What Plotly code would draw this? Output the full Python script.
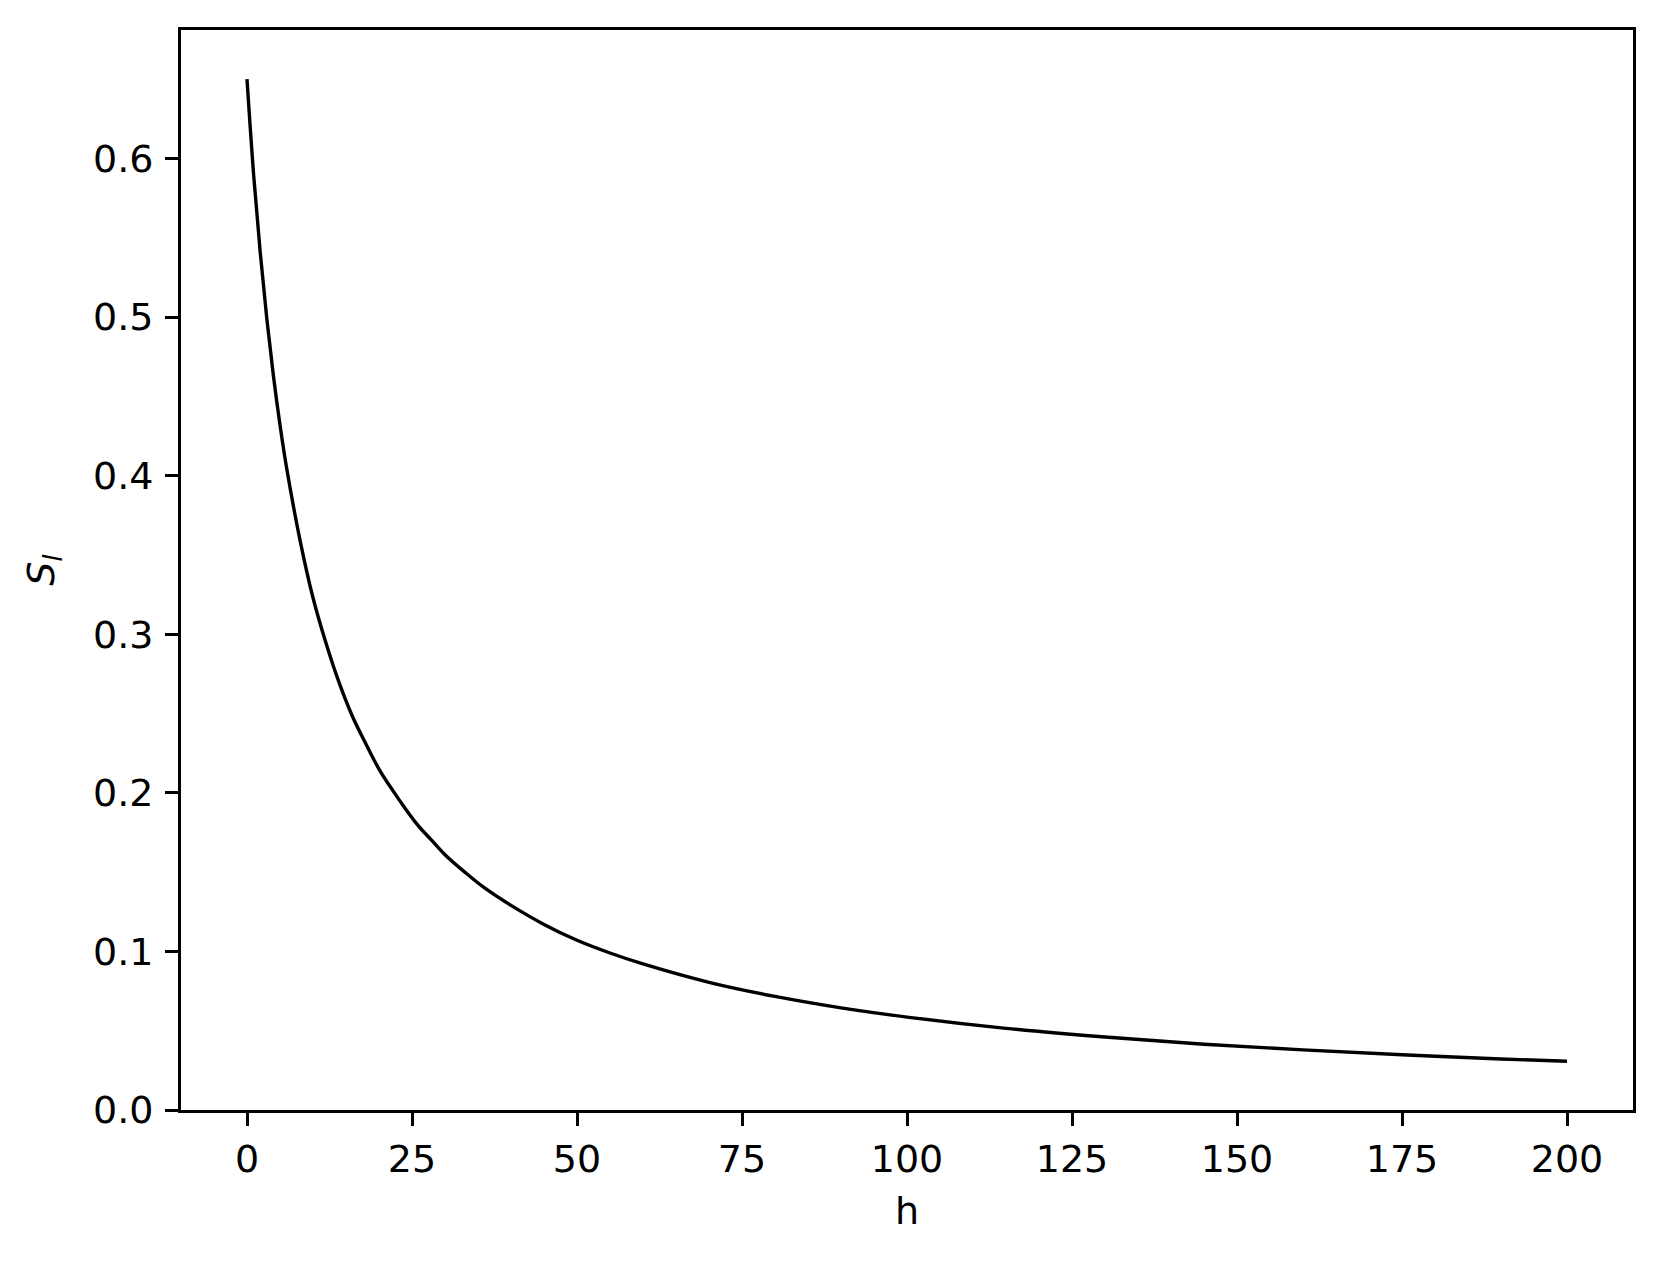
import plotly.graph_objects as go

# values
h_values = [0, 1, 2, 3, 4, 5, 6, 8, 10, 12, 14, 16, 18, 20, 22, 24, 26, 28, 30, 33,
            36, 40, 45, 50, 55, 60, 70, 80, 90, 100, 115, 130, 145, 160, 175, 190, 200]
s_values = [0.650, 0.590, 0.541, 0.499, 0.463, 0.432, 0.405, 0.360, 0.323, 0.294,
            0.269, 0.248, 0.231, 0.215, 0.202, 0.190, 0.179, 0.170, 0.161, 0.150,
            0.140, 0.129, 0.117, 0.107, 0.0990, 0.0921, 0.0805, 0.0716, 0.0644,
            0.0586, 0.0515, 0.0460, 0.0415, 0.0379, 0.0348, 0.0322, 0.0307]

x_ticks = [0, 25, 50, 75, 100, 125, 150, 175, 200]
y_ticks = [0.0, 0.1, 0.2, 0.3, 0.4, 0.5, 0.6]

FONT = "DejaVu Sans"

fig = go.Figure()

fig.add_trace(
    go.Scatter(
        x=h_values,
        y=s_values,
        mode="lines",
        line=dict(color="black", width=3.4, shape="spline", smoothing=1.0),
        showlegend=False,
    )
)

axis_style = dict(
    showline=True,
    mirror=True,
    linecolor="black",
    linewidth=2.8,
    ticks="outside",
    ticklen=13,
    tickwidth=2.8,
    tickcolor="black",
    showgrid=False,
    zeroline=False,
    tickfont=dict(family=FONT, size=38, color="black"),
)

# page body adds an 8px offset, so the figure is a bit smaller than the window
fig.update_layout(
    width=1646,
    height=1249,
    margin=dict(l=173, r=21, t=22, b=147),
    paper_bgcolor="white",
    plot_bgcolor="white",
    font=dict(family=FONT, size=38, color="black"),
    xaxis=dict(
        range=[-10, 210],
        tickvals=x_ticks,
        ticktext=[str(v) for v in x_ticks],
        title=dict(text="h", font=dict(family=FONT, size=38), standoff=18),
        **axis_style,
    ),
    yaxis=dict(
        range=[0, 0.681],
        tickvals=y_ticks,
        ticktext=[f"{v:.1f}" for v in y_ticks],
        ticklabelstandoff=4,
        title=dict(text="<i>S</i><sub><i>l</i></sub>", font=dict(family=FONT, size=38), standoff=27),
        **axis_style,
    ),
)

fig.write_html("out.html")
